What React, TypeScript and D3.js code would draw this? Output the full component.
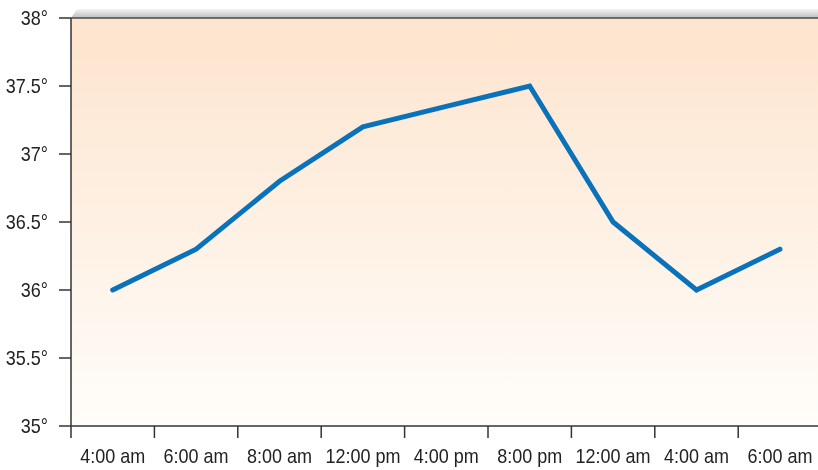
import React from "react";
import * as d3 from "d3";

const categories = ["4:00 am", "6:00 am", "8:00 am", "12:00 pm", "4:00 pm", "8:00 pm", "12:00 am", "4:00 am ", "6:00 am "];
const temps = [36.0, 36.3, 36.8, 37.2, 37.35, 37.5, 36.5, 36.0, 36.3];
const yTicks = [35, 35.5, 36, 36.5, 37, 37.5, 38];

const W = 818, H = 470;
const left = 71, top = 18, bottom = 426, step = 83.4;
const FS = 20, SX = 0.9;

export default function App() {
  const x = d3.scaleBand<string>().domain(categories).range([left, left + step * categories.length]);
  const y = d3.scaleLinear().domain([35, 38]).range([bottom, top]);
  const line = d3.line<number>()
    .x((_, i) => (x(categories[i]) as number) + x.bandwidth() / 2)
    .y((d) => y(d));
  const bounds = categories.map((c) => x(c) as number).slice(1);
  return (
    <div style={{ position: "fixed", left: 0, top: 0 }}>
      <svg width={W} height={H} style={{ display: "block", fontFamily: "'Liberation Sans', Arial, sans-serif" }}>
        <defs>
          <linearGradient id="bg" x1="0" y1="0" x2="0" y2="1">
            <stop offset="0" stopColor="#fde4cd" />
            <stop offset="1" stopColor="#fffdfa" />
          </linearGradient>
          <linearGradient id="sh" x1="0" y1="0" x2="0" y2="1">
            <stop offset="0" stopColor="#f4f4f4" />
            <stop offset="1" stopColor="#bdbdbd" />
          </linearGradient>
        </defs>
        <path d={`M${left},${top} L${left + 6},${top - 9} L${W},${top - 9} L${W},${top} Z`} fill="url(#sh)" />
        <rect x={left} y={top} width={W - left} height={bottom - top} fill="url(#bg)" />
        <line x1={left} x2={W} y1={top} y2={top} stroke="#4a4a4a" strokeWidth={1.5} />
        <line x1={left} x2={left} y1={top} y2={bottom + 12} stroke="#333" strokeWidth={1.5} />
        <line x1={left} x2={W} y1={bottom} y2={bottom} stroke="#333" strokeWidth={1.5} />
        {yTicks.map((t) => (
          <g key={t}>
            <line x1={left - 12} x2={left} y1={y(t)} y2={y(t)} stroke="#333" strokeWidth={1.5} />
            <text transform={`translate(48,${y(t) + 7}) scale(${SX},1)`} textAnchor="end" fontSize={FS} fill="#222">{`${t}°`}</text>
          </g>
        ))}
        {bounds.map((b, i) => (
          <line key={i} x1={b} x2={b} y1={bottom} y2={bottom + 12} stroke="#333" strokeWidth={1.5} />
        ))}
        {categories.map((c) => (
          <text key={c} transform={`translate(${(x(c) as number) + x.bandwidth() / 2},${bottom + 37}) scale(${SX},1)`} textAnchor="middle" fontSize={FS} fill="#222">{c.trim()}</text>
        ))}
        <path d={line(temps) || ""} fill="none" stroke="#0a72ba" strokeWidth={5} strokeLinecap="round" strokeLinejoin="miter" />
      </svg>
    </div>
  );
}
